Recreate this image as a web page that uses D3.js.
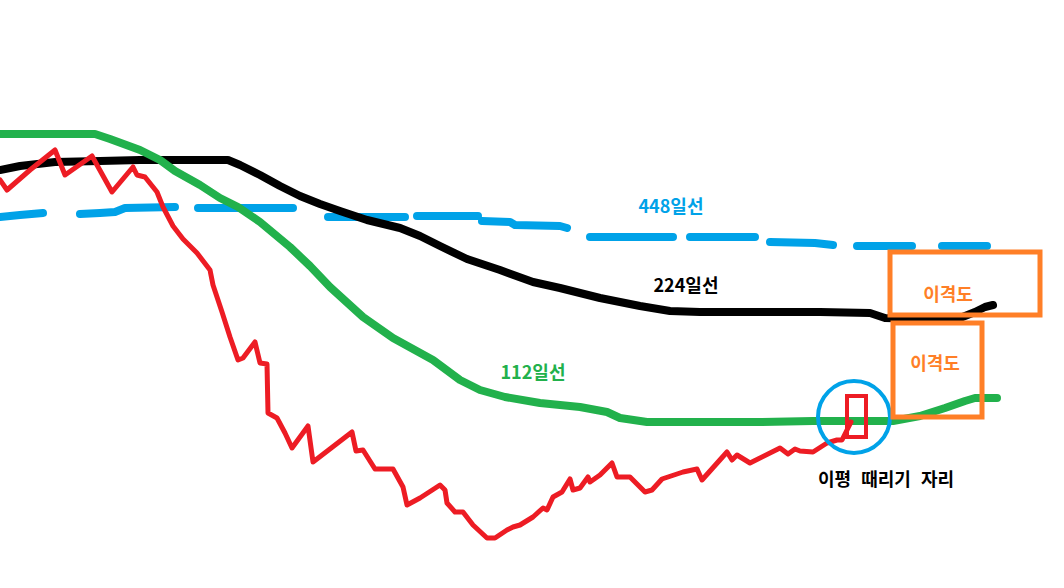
<!DOCTYPE html>
<html><head><meta charset="utf-8">
<script src="https://cdn.jsdelivr.net/npm/d3@7"></script>
<style>
html,body{margin:0;padding:0;background:#fff;}
svg{display:block;}
text{font-family:"Noto Sans CJK KR","Noto Sans",sans-serif;font-weight:bold;}
</style></head>
<body><svg id="chart" width="1064" height="588"></svg>
<script>
// ---- data (x = day index, value = level) ----
const ma112X = [0,95,110,140,160,175,200,220,238,260,290,310,330,363,393,433,460,480,505,540,580,607,620,647,760,813,893,920,945,965,975,997];
const ma112V = [466,466,461,450,440,429,415,402,393,378,353,334,313,283,262,240,220,210,203,197,193,188,182,178,178,179,179,184,192,199,202,202];

const ma224X = [0,20,55,100,140,228,240,260,280,300,320,340,367,400,420,440,467,500,533,560,600,640,670,700,760,820,870,885,920,960,975,985,993];
const ma224V = [430,434,438,439,440,440,435,425,414,404,396,389,380,372,364,354,341,330,318,312,302,294,289,288,288,288,287,282,281,282,288,293,295];

// 448 line: hand-drawn dashes (null = gap)
const ma448X = [0,20,43,null,80,100,115,125,175,null,198,293,null,328,405,null,417,478,null,482,510,515,560,567,null,590,673,null,690,755,null,770,815,833,null,857,912,null,942,987];
const ma448V = [383,385,387,null,386,387,388,392,393,null,392,392,null,383,383,null,384,384,null,379,378,375,374,372,null,363,363,null,363,363,null,358,357,355,null,354,354,null,354,354];

const priceX = [0,7,30,55,65,92,112,133,137,145,157,163,173,183,197,210,213,222,230,238,243,255,260,267,268,277,285,292,308,313,352,356,363,375,393,403,407,420,440,445,447,455,463,473,487,495,507,513,520,533,543,547,553,562,570,573,580,588,590,600,612,617,630,645,652,662,683,697,702,727,732,737,750,780,788,795,800,813,827,837,842,848,851];
const priceV = [420,410,430,450,425,444,408,433,425,423,408,393,374,361,347,330,315,288,263,240,242,258,237,236,187,182,167,152,174,138,168,149,150,131,131,113,95,102,115,110,97,88,88,75,62,62,70,73,75,83,92,90,103,108,121,110,112,123,118,125,137,123,123,108,110,121,128,131,120,148,140,145,137,152,146,151,149,148,157,160,160,172,178];

const seriesLabels = ["448일선","224일선","112일선"];
const noteLabel = "이평 때리기 자리";
const gapLabel = "이격도";

// annotation anchors (data units)
const gapBoxes = [{x0:890,x1:1040,v0:348,v1:285},{x0:893,x1:982,v0:277,v1:183}];
const hitBox = {x0:847,x1:866,v0:204,v1:163};
const hitCircle = {x:854,v:183};
const labelPos = [{x:671,v:395},{x:686,v:316},{x:533,v:229}];
const gapLabelPos = [{x:948,v:307},{x:935,v:238}];
const notePos = {x:886,v:122};

// ---- drawing ----
const W = 1064, H = 588;
const svg = d3.select("#chart");
const x = d3.scaleLinear().domain([0,1064]).range([0,W]);
const y = d3.scaleLinear().domain([12,600]).range([H,0]);

const C = {green:"#22b14c", black:"#000000", blue:"#00a2e8", red:"#ed1c24", orange:"#ff7f27"};

const line = d3.line().defined(d => d[0] !== null).x(d => x(d[0])).y(d => y(d[1]));
const zip = (a,b) => a.map((v,i)=>[v,b[i]]);

function drawLine(X,V,color,w){
  svg.append("path").datum(zip(X,V)).attr("d",line)
    .attr("fill","none").attr("stroke",color).attr("stroke-width",w)
    .attr("stroke-linecap","round").attr("stroke-linejoin","round");
}
drawLine(ma448X, ma448V, C.blue, 8);
drawLine(ma224X, ma224V, C.black, 8);
drawLine(ma112X, ma112V, C.green, 8);
drawLine(priceX, priceV, C.red, 5);

// annotations
svg.append("rect")
  .attr("x",x(hitBox.x0)).attr("y",y(hitBox.v0))
  .attr("width",x(hitBox.x1)-x(hitBox.x0)).attr("height",y(hitBox.v1)-y(hitBox.v0))
  .attr("fill","none").attr("stroke",C.red).attr("stroke-width",4);
svg.append("circle").attr("cx",x(hitCircle.x)).attr("cy",y(hitCircle.v)).attr("r",36)
  .attr("fill","none").attr("stroke",C.blue).attr("stroke-width",4);
svg.selectAll("rect.gap").data(gapBoxes).enter().append("rect").attr("class","gap")
  .attr("x",d=>x(d.x0)).attr("y",d=>y(d.v0))
  .attr("width",d=>x(d.x1)-x(d.x0)).attr("height",d=>y(d.v1)-y(d.v0))
  .attr("fill","none").attr("stroke",C.orange).attr("stroke-width",5);

const labelColors = [C.blue, C.black, C.green];
svg.selectAll("text.ser").data(seriesLabels).enter().append("text").attr("class","ser")
  .attr("x",(d,i)=>x(labelPos[i].x)).attr("y",(d,i)=>y(labelPos[i].v))
  .attr("text-anchor","middle").attr("dominant-baseline","central")
  .attr("font-size",18).attr("fill",(d,i)=>labelColors[i]).text(d=>d);

svg.selectAll("text.gapl").data(gapLabelPos).enter().append("text").attr("class","gapl")
  .attr("x",d=>x(d.x)).attr("y",d=>y(d.v))
  .attr("text-anchor","middle").attr("dominant-baseline","central")
  .attr("font-size",18).attr("fill",C.orange).text(gapLabel);

svg.append("text").attr("x",x(notePos.x)).attr("y",y(notePos.v))
  .attr("text-anchor","middle").attr("dominant-baseline","central")
  .attr("font-size",18).attr("word-spacing",6).attr("fill",C.black).text(noteLabel);
</script></body></html>
